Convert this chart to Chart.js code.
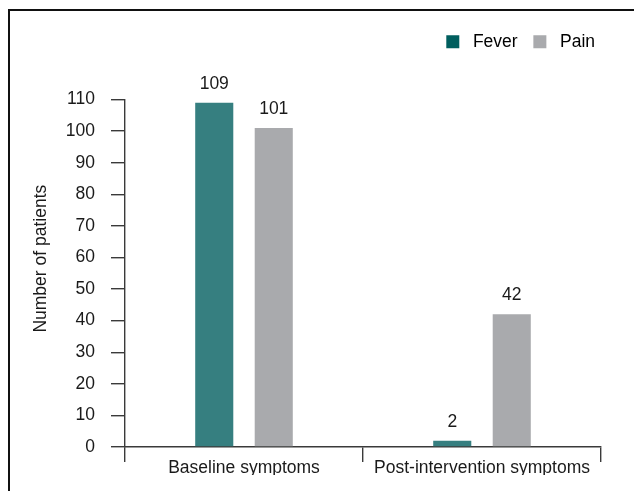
<!DOCTYPE html>
<html>
<head>
<meta charset="utf-8">
<script src="https://cdn.jsdelivr.net/npm/chart.js@4.4.1/dist/chart.umd.min.js"></script>
<style>
  html, body { margin: 0; padding: 0; overflow: hidden; background: #fff; }
  #frame { position: absolute; left: 8px; top: 9px; width: 700px; height: 600px; border: 2px solid #111; }
  #wrap { position: absolute; left: 0; top: 0; width: 634px; height: 491px; }
</style>
</head>
<body>
<div id="frame"></div>
<div id="wrap"><canvas id="chart"></canvas></div>
<script>
const categories = ['Baseline symptoms', 'Post-intervention symptoms'];
const seriesNames = ['Fever', 'Pain'];
const feverValues = [109, 2];
const painValues = [101, 42];
const yTicks = [0, 10, 20, 30, 40, 50, 60, 70, 80, 90, 100, 110];

const FONT = '"Liberation Sans", Arial, sans-serif';
const FS = 17.5;
const TEXT = '#1a1a1a';
const AXIS = '#3a3a3a';

// value labels above each bar
const barLabels = {
  id: 'barLabels',
  afterDatasetsDraw(chart) {
    const ctx = chart.ctx;
    ctx.save();
    ctx.font = FS + 'px ' + FONT;
    ctx.fillStyle = TEXT;
    ctx.textAlign = 'center';
    ctx.textBaseline = 'alphabetic';
    chart.data.datasets.forEach((ds, i) => {
      chart.getDatasetMeta(i).data.forEach((bar, j) => {
        ctx.fillText(String(ds.data[j]), bar.x, bar.y - 14);
      });
    });
    ctx.restore();
  }
};

// extra space under the legend
const legendGap = {
  id: 'legendGap',
  beforeInit(chart) {
    const fit = chart.legend.fit;
    chart.legend.fit = function () {
      fit.bind(chart.legend)();
      this.height += 39;
    };
  }
};

new Chart(document.getElementById('chart'), {
  type: 'bar',
  data: {
    labels: categories,
    datasets: [
      {
        label: seriesNames[0],
        data: feverValues,
        backgroundColor: '#367f80',
        categoryPercentage: 0.5,
        barPercentage: 0.64
      },
      {
        label: seriesNames[1],
        data: painValues,
        backgroundColor: '#a9aaad',
        categoryPercentage: 0.5,
        barPercentage: 0.64
      }
    ]
  },
  options: {
    responsive: true,
    maintainAspectRatio: false,
    animation: false,
    layout: { padding: { left: 8, right: 33, top: 27, bottom: 16 } },
    plugins: {
      legend: {
        display: true,
        position: 'top',
        align: 'end',
        labels: {
          boxWidth: 13,
          boxHeight: 13,
          padding: 6,
          color: TEXT,
          font: { family: FONT, size: FS },
          generateLabels(chart) {
            const cols = ['#005e5e', '#a9aaad'];
            return seriesNames.map((name, i) => ({
              text: ' ' + name + (i === 0 ? '  ' : ''),
              fillStyle: cols[i], strokeStyle: cols[i], lineWidth: 0, datasetIndex: i
            }));
          }
        }
      },
      tooltip: { enabled: false }
    },
    scales: {
      x: {
        offset: true,
        grid: {
          offset: true,
          drawOnChartArea: false,
          drawTicks: true,
          tickLength: 15,
          color: AXIS,
          lineWidth: 1.4
        },
        border: { color: AXIS, width: 1.4 },
        ticks: { color: TEXT, font: { family: FONT, size: FS }, padding: -4 }
      },
      y: {
        min: 0,
        max: 110,
        afterBuildTicks(scale) {
          scale.ticks = yTicks.map(v => ({ value: v }));
        },
        afterFit(scale) {
          scale.width = 117;
        },
        grid: {
          drawOnChartArea: false,
          drawTicks: true,
          tickLength: 14,
          color: AXIS,
          lineWidth: 1.4
        },
        border: { color: AXIS, width: 1.4 },
        ticks: { color: TEXT, font: { family: FONT, size: FS }, padding: 16 },
        title: {
          display: true,
          text: '      Number of patients',
          color: TEXT,
          font: { family: FONT, size: FS },
          padding: { top: 23, bottom: 4 }
        }
      }
    }
  },
  plugins: [barLabels, legendGap]
});
</script>
</body>
</html>
